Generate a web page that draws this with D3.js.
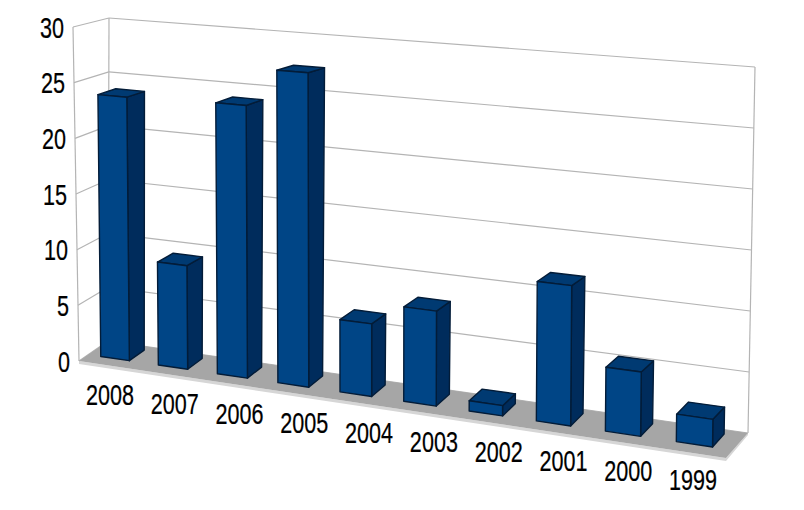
<!DOCTYPE html>
<html><head><meta charset="utf-8">
<script src="https://cdn.jsdelivr.net/npm/d3@7"></script>
<style>html,body{margin:0;background:#fff}svg{display:block}text{font-family:"Liberation Sans",Arial,sans-serif;fill:#000;stroke:#000;stroke-width:0.25}</style>
</head><body><svg id="c" width="804" height="510"></svg>
<script>
const categories = ["2008","2007","2006","2005","2004","2003","2002","2001","2000","1999"];
const values = [23.7,9.2,23.9,27.2,6.2,8,0.85,11.5,5.2,2.2];
const yTicks = [0,5,10,15,20,25,30];

// Oblique view box: corners of the floor and of the plane at the top value
const floorC = {fl:[79,361],fr:[726,458],bl:[108,341],br:[748,433]};
const topC   = {fl:[73,27],fr:[730,74],bl:[109,18],br:[755,67]};
const vScale = d3.scaleLinear().domain([0,30]).range([0,1]);
const band = d3.scaleBand().domain(categories).range([0,1]).paddingInner(0.5).paddingOuter(0.25);
const warp = u => { const w=Math.max(0,u-0.003); return w/(w+1.14*(1-w)); };
const mix = (a,b,t)=>[a[0]+(b[0]-a[0])*t,a[1]+(b[1]-a[1])*t];
const plane = (c,u,d)=>mix(mix(c.fl,c.fr,u),mix(c.bl,c.br,u),d);
const P = (u,d,v)=>mix(plane(floorC,u,d),plane(topC,u,d),vScale(v));
const pts = a=>a.map(p=>p.join(",")).join(" ");

const svg = d3.select("#c");
const grid="#b4b4b4";

// floor with its lighter lower lip
svg.append("polygon").attr("points",pts([P(0,0,0),P(1,0,0),P(1,1,0),[floorC.br[0],floorC.br[1]+2],[floorC.fr[0],floorC.fr[1]+3],[floorC.fl[0],floorC.fl[1]+3]])).attr("fill","#d6d6d6");
// walls
const wall=(a,b)=>svg.append("line").attr("x1",a[0]).attr("y1",a[1]).attr("x2",b[0]).attr("y2",b[1]).attr("stroke",grid).attr("stroke-width",1.2);
wall(P(0,0,0),P(0,0,30)); wall(P(0,1,0),P(0,1,30)); wall(P(1,1,0),P(1,1,30));
yTicks.forEach(v=>{ wall(P(0,0,v),P(0,1,v)); wall(P(0,1,v),P(1,1,v)); });
svg.append("polygon").attr("points",pts([P(0,0,0),P(1,0,0),P(1,1,0),P(0,1,0)])).attr("fill","#a6a6a6");

// bars
const dF=0.32,dB=0.84;
const stroke="#031c38";
categories.forEach((c,i)=>{
  const v=values[i];
  const u0=warp(band(c)),u1=warp(band(c)+band.bandwidth());
  const g=svg.append("g");
  const face=(p,f)=>g.append("polygon").attr("points",pts(p)).attr("fill",f).attr("stroke",stroke).attr("stroke-width",1.4).attr("stroke-linejoin","round");
  face([P(u1,dF,0),P(u1,dB,0),P(u1,dB,v),P(u1,dF,v)],"#002c5c");
  face([P(u0,dF,v),P(u1,dF,v),P(u1,dB,v),P(u0,dB,v)],"#003a72");
  face([P(u0,dF,0),P(u1,dF,0),P(u1,dF,v),P(u0,dF,v)],"#004586");
});

// tick labels, narrow and tall as in the reference
const label=(t,x,y,anchor)=>svg.append("text").text(t)
  .attr("transform",`translate(${x},${y}) scale(0.72,1)`)
  .attr("text-anchor",anchor).attr("font-size",30);
yTicks.forEach(v=>{ const p=P(0,0,v); label(v,p[0]-9,p[1]+10.5,"end"); });
const lx=d3.scalePoint().domain(categories).range([110,693]);
const ly=d3.scalePoint().domain(categories).range([405,490]);
categories.forEach(c=>label(c,lx(c),ly(c),"middle"));
</script></body></html>
